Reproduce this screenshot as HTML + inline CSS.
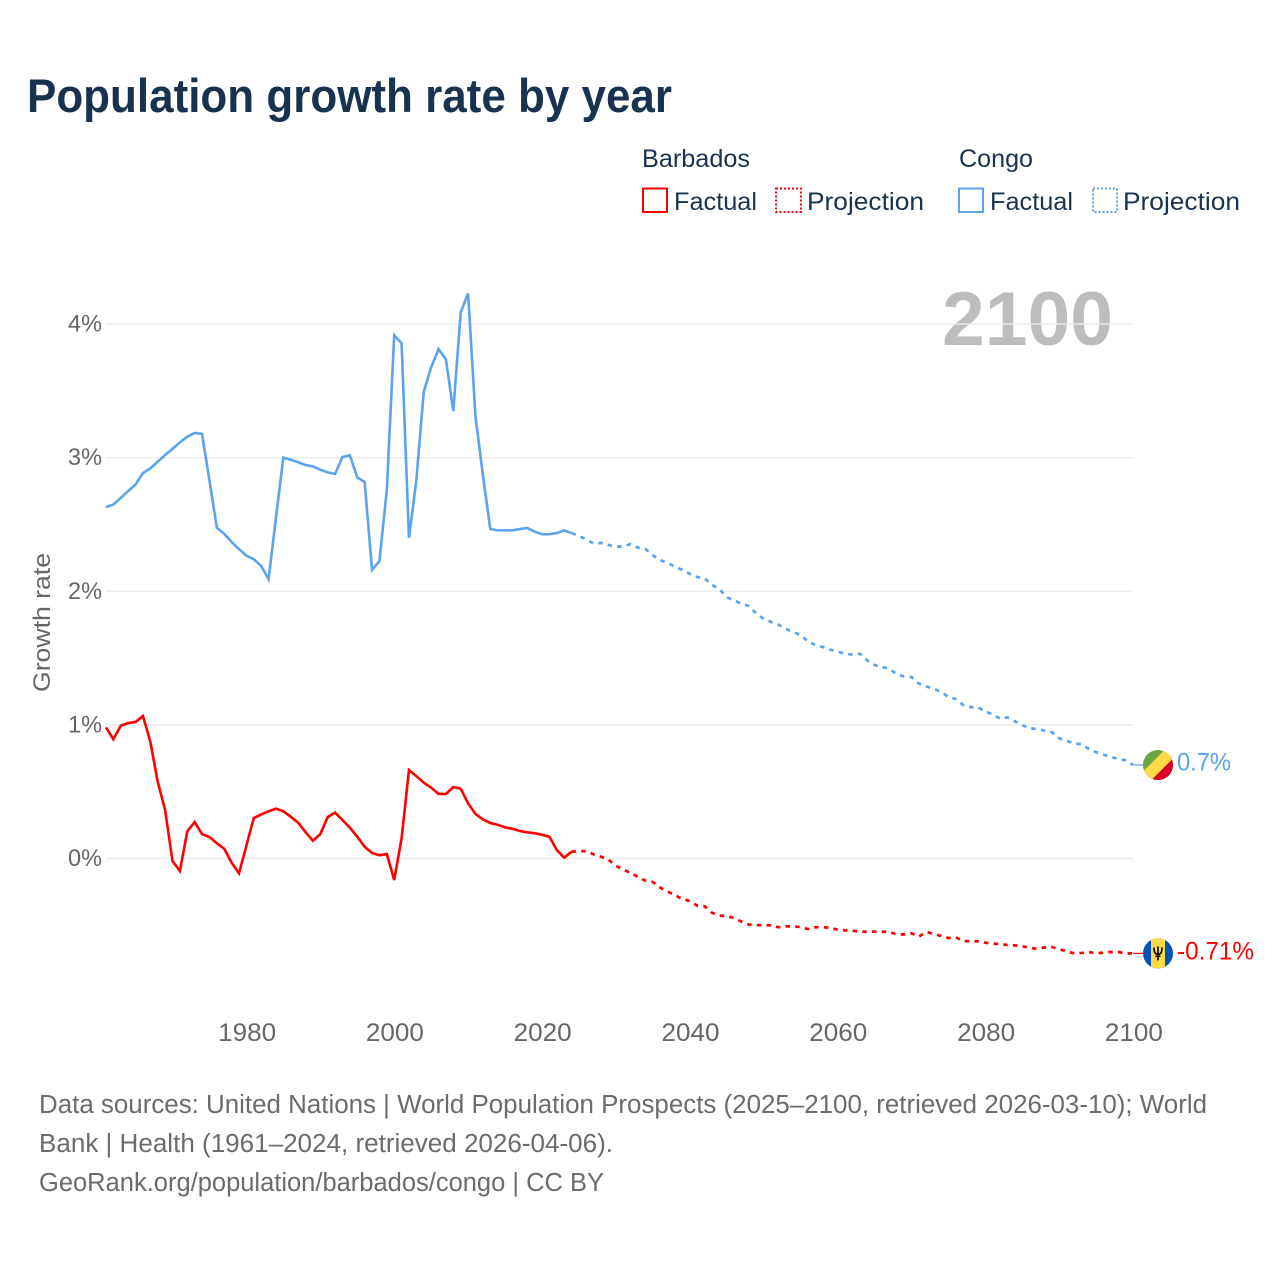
<!DOCTYPE html>
<html lang="en">
<head>
<meta charset="utf-8">
<title>Population growth rate by year</title>
<style>
html,body{margin:0;padding:0;background:#fff;width:1280px;height:1280px;overflow:hidden}
svg{display:block}
text{font-family:"Liberation Sans",sans-serif}
</style>
</head>
<body>
<svg id="chart" xmlns="http://www.w3.org/2000/svg" width="1280" height="1280" viewBox="0 0 1280 1280">
  <defs>
    <clipPath id="flag-clip"><circle cx="0" cy="0" r="15"/></clipPath>
  </defs>
  <rect x="0" y="0" width="1280" height="1280" fill="#fff"/>
  <text x="27" y="112" font-size="47" font-weight="700" fill="#18324f" textLength="645" lengthAdjust="spacingAndGlyphs">Population growth rate by year</text>

  <g font-size="25" fill="#18324f">
    <text x="642" y="167" textLength="108" lengthAdjust="spacingAndGlyphs">Barbados</text>
    <text x="959" y="167" textLength="74" lengthAdjust="spacingAndGlyphs">Congo</text>
    <g>
      <rect x="643" y="188.5" width="24" height="23.5" fill="none" stroke="#ff0000" stroke-width="2"/>
      <text x="674" y="210" textLength="83" lengthAdjust="spacingAndGlyphs">Factual</text>
    </g>
    <g>
      <rect x="776" y="188.5" width="25" height="23.5" fill="none" stroke="#ff0000" stroke-width="2" stroke-dasharray="2 2"/>
      <text x="807" y="210" textLength="117" lengthAdjust="spacingAndGlyphs">Projection</text>
    </g>
    <g>
      <rect x="959" y="188.5" width="24" height="23.5" fill="none" stroke="#5ba3ec" stroke-width="2"/>
      <text x="990" y="210" textLength="83" lengthAdjust="spacingAndGlyphs">Factual</text>
    </g>
    <g>
      <rect x="1093" y="188.5" width="24" height="23.5" fill="none" stroke="#5ba3ec" stroke-width="2" stroke-dasharray="2 2"/>
      <text x="1123" y="210" textLength="117" lengthAdjust="spacingAndGlyphs">Projection</text>
    </g>
  </g>

  <text x="942" y="345" font-size="76" font-weight="700" fill="#bdbdbd" textLength="171" lengthAdjust="spacingAndGlyphs">2100</text>
  <text transform="translate(50,692) rotate(-90)" font-size="24" fill="#666" textLength="139" lengthAdjust="spacingAndGlyphs">Growth rate</text>

  <g id="grid"></g>
  <g id="y-ticks" font-size="24" fill="#666" text-anchor="end"></g>
  <g id="x-ticks" font-size="25" fill="#666" text-anchor="middle"></g>
  <g id="series"></g>

  <g id="flag-congo">
    <g clip-path="url(#flag-clip)">
      <rect x="-16" y="-16" width="32" height="32" fill="#6da544"/>
      <polygon points="16,-16 16,16 -16,16" fill="#d80027"/>
      <line x1="-18" y1="18" x2="18" y2="-18" stroke="#ffda44" stroke-width="12"/>
    </g>
  </g>
  <g id="flag-barbados">
    <g clip-path="url(#flag-clip)">
      <rect x="-16" y="-16" width="32" height="32" fill="#0052b4"/>
      <rect x="-7" y="-16" width="14" height="32" fill="#ffda44"/>
      <path d="M0,-7V7M-4,-6C-4,-1 -3,1 0,1C3,1 4,-1 4,-6M-2.5,3H2.5" fill="none" stroke="#000" stroke-width="1.6"/>
    </g>
  </g>
  <text id="label-congo" x="1177" y="770" font-size="25" fill="#5ba3ec" textLength="54" lengthAdjust="spacingAndGlyphs">0.7%</text>
  <text id="label-barbados" x="1177" y="959" font-size="25" fill="#ff0000" textLength="77" lengthAdjust="spacingAndGlyphs">-0.71%</text>

  <g font-size="25.5" fill="#6b6b6b">
    <text x="39" y="1113" textLength="1168" lengthAdjust="spacingAndGlyphs">Data sources: United Nations | World Population Prospects (2025–2100, retrieved 2026-03-10); World</text>
    <text x="39" y="1152" textLength="574" lengthAdjust="spacingAndGlyphs">Bank | Health (1961–2024, retrieved 2026-04-06).</text>
    <text x="39" y="1191" textLength="565" lengthAdjust="spacingAndGlyphs">GeoRank.org/population/barbados/congo | CC BY</text>
  </g>
</svg>
<script>
const yTickValues = [0, 1, 2, 3, 4];
const yTickLabels = ["0%", "1%", "2%", "3%", "4%"];
const xTickYears = [1980, 2000, 2020, 2040, 2060, 2080, 2100];
const xTickLabels = ["1980", "2000", "2020", "2040", "2060", "2080", "2100"];

const factualStartYear = 1961;
const projectionStartYear = 2024;

const congoFactual = [2.63,2.65,2.70,2.75,2.80,2.885,2.92,2.97,3.02,3.065,3.115,3.157,3.185,3.178,2.83,2.476,2.43,2.37,2.315,2.267,2.24,2.19,2.09,2.55,3.0,2.985,2.966,2.945,2.935,2.91,2.89,2.878,3.005,3.018,2.853,2.818,2.16,2.225,2.758,3.917,3.856,2.40,2.833,3.494,3.676,3.813,3.736,3.35,4.088,4.23,3.307,2.87,2.466,2.456,2.456,2.456,2.466,2.474,2.446,2.427,2.427,2.436,2.456,2.436];
const congoProjection = [2.436,2.414,2.389,2.357,2.362,2.347,2.334,2.337,2.354,2.326,2.317,2.27,2.234,2.212,2.184,2.16,2.13,2.107,2.097,2.047,2.017,1.955,1.932,1.907,1.89,1.832,1.793,1.77,1.75,1.718,1.695,1.673,1.623,1.598,1.583,1.563,1.548,1.533,1.526,1.533,1.483,1.448,1.433,1.42,1.38,1.363,1.358,1.31,1.288,1.27,1.248,1.208,1.193,1.148,1.133,1.133,1.098,1.08,1.046,1.056,1.027,0.999,0.974,0.969,0.957,0.945,0.9,0.88,0.862,0.855,0.82,0.795,0.777,0.76,0.745,0.735,0.70];
const barbadosFactual = [0.982,0.892,0.994,1.014,1.022,1.067,0.874,0.575,0.363,-0.019,-0.094,0.203,0.273,0.183,0.161,0.114,0.073,-0.031,-0.111,0.096,0.303,0.33,0.353,0.373,0.353,0.313,0.268,0.198,0.133,0.183,0.31,0.343,0.288,0.23,0.163,0.088,0.041,0.024,0.034,-0.161,0.151,0.662,0.617,0.567,0.53,0.483,0.483,0.535,0.522,0.413,0.333,0.293,0.266,0.253,0.233,0.223,0.206,0.196,0.189,0.178,0.163,0.064,0.006,0.051];
const barbadosProjection = [0.051,0.056,0.054,0.031,0.013,-0.009,-0.054,-0.084,-0.108,-0.138,-0.166,-0.176,-0.218,-0.248,-0.273,-0.305,-0.318,-0.353,-0.358,-0.406,-0.428,-0.43,-0.445,-0.473,-0.495,-0.498,-0.5,-0.5,-0.515,-0.508,-0.508,-0.513,-0.528,-0.515,-0.513,-0.52,-0.533,-0.538,-0.54,-0.548,-0.548,-0.548,-0.548,-0.55,-0.568,-0.568,-0.56,-0.585,-0.55,-0.565,-0.58,-0.595,-0.59,-0.618,-0.62,-0.62,-0.63,-0.638,-0.64,-0.648,-0.65,-0.657,-0.668,-0.677,-0.665,-0.662,-0.68,-0.695,-0.71,-0.707,-0.70,-0.71,-0.705,-0.70,-0.70,-0.71,-0.71];

const SVG_NS = "http://www.w3.org/2000/svg";
const CONGO_COLOR = "#5ba3ec";
const BARBADOS_COLOR = "#ff0000";

function xScale(year) { return 1133.2 + (year - 2100) * 7.39; }
function yScale(value) { return 858.5 - value * 133.6; }

function make(tag, attrs) {
  const node = document.createElementNS(SVG_NS, tag);
  Object.keys(attrs).forEach(function (k) { node.setAttribute(k, attrs[k]); });
  return node;
}

function linePoints(values, startYear) {
  return values.map(function (v, i) {
    return xScale(startYear + i).toFixed(2) + "," + yScale(v).toFixed(2);
  }).join(" ");
}

const gridGroup = document.getElementById("grid");
const yTickGroup = document.getElementById("y-ticks");
yTickValues.forEach(function (v, i) {
  const y = yScale(v);
  const line = make("line", { x1: 106, x2: 1133.5, y1: y, y2: y, stroke: "#ececec", "stroke-width": 1.4 });
  
  
  gridGroup.appendChild(line);
  const label = make("text", { x: 102, y: y + 7.5, textLength: 34, lengthAdjust: "spacingAndGlyphs" });
  
  
  label.textContent = yTickLabels[i];
  yTickGroup.appendChild(label);
});

const xTickGroup = document.getElementById("x-ticks");
xTickYears.forEach(function (year, i) {
  const label = make("text", { x: xScale(year) + 0.7, y: 1041, textLength: 58, lengthAdjust: "spacingAndGlyphs" });
  
  
  label.textContent = xTickLabels[i];
  xTickGroup.appendChild(label);
});

const seriesGroup = document.getElementById("series");

function addFactual(values, color, name) {
  const line = make("polyline", { points: linePoints(values, factualStartYear), fill: "none", stroke: color, "stroke-width": 2.6, "stroke-linejoin": "miter" });
  
  
  seriesGroup.appendChild(line);
}

function addProjection(values, color, name) {
  const line = make("polyline", { points: linePoints(values, projectionStartYear), fill: "none", stroke: color, "stroke-width": 2.7, "stroke-dasharray": "4.5 5.2" });
  
  
  seriesGroup.appendChild(line);
}

function addLeader(values, color, name) {
  const y = yScale(values[values.length - 1]);
  const line = make("line", { x1: xScale(2100), x2: 1143, y1: y, y2: y, stroke: color, "stroke-width": 1.2 });
  
  
  seriesGroup.appendChild(line);
}

addFactual(congoFactual, CONGO_COLOR, "line-congo-factual");
addProjection(congoProjection, CONGO_COLOR, "line-congo-projection");
addLeader(congoProjection, CONGO_COLOR, "leader-congo");
addFactual(barbadosFactual, BARBADOS_COLOR, "line-barbados-factual");
addProjection(barbadosProjection, BARBADOS_COLOR, "line-barbados-projection");
addLeader(barbadosProjection, BARBADOS_COLOR, "leader-barbados");

const lastCongo = congoProjection[congoProjection.length - 1];
const lastBarbados = barbadosProjection[barbadosProjection.length - 1];
document.getElementById("flag-congo").setAttribute("transform", "translate(1158," + yScale(lastCongo) + ")");
document.getElementById("flag-barbados").setAttribute("transform", "translate(1158," + yScale(lastBarbados) + ")");
document.getElementById("label-congo").setAttribute("y", yScale(lastCongo) + 5.5);
document.getElementById("label-barbados").setAttribute("y", yScale(lastBarbados) + 6);
</script>
</body>
</html>
